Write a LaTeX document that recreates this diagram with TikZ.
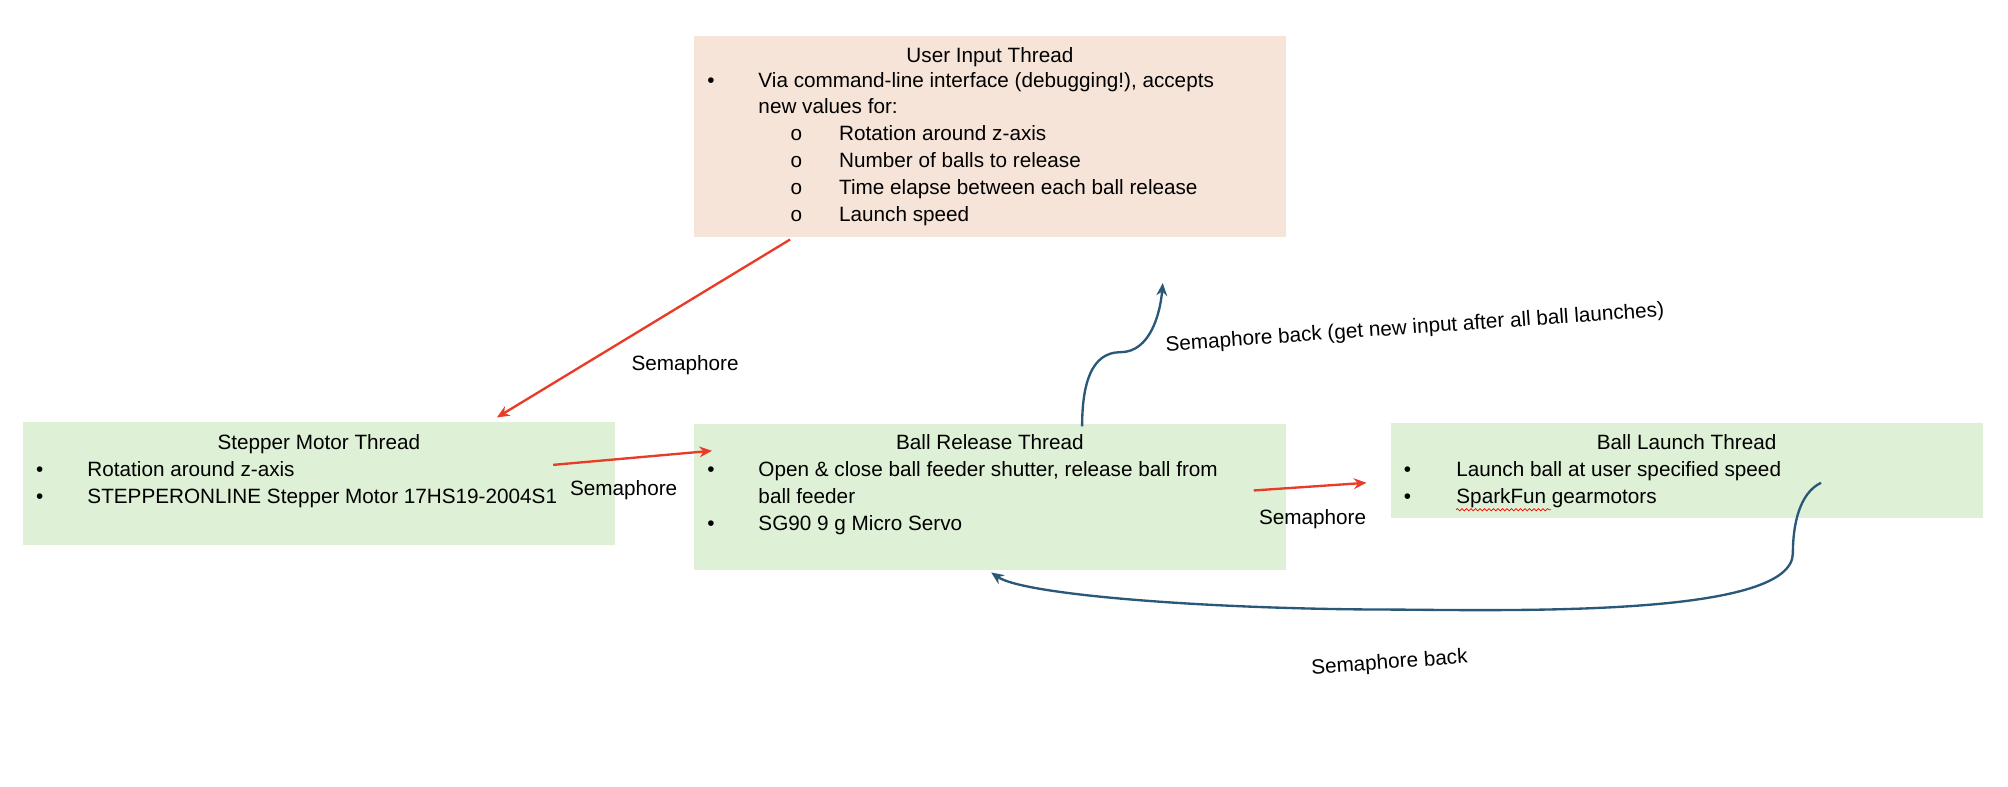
\documentclass[tikz,border=0pt]{standalone}
\usepackage{fontspec}
\setmainfont{Liberation Sans}
\usetikzlibrary{positioning,arrows.meta,decorations.pathmorphing}
\definecolor{peach}{RGB}{246,228,216}
\definecolor{mint}{RGB}{222,240,213}
\definecolor{semred}{RGB}{232,60,40}
\definecolor{semblue}{RGB}{42,88,120}
\tikzset{
  box/.style={fill=#1,inner sep=0pt,anchor=north west},
  ln/.style={anchor=base west,inner sep=0pt,font=\fontsize{11.5}{13}\selectfont},
  ttl/.style={anchor=base,inner sep=0pt,font=\fontsize{11.5}{13}\selectfont},
  lbl/.style={inner sep=0pt,font=\fontsize{11.5}{13}\selectfont},
  red arrow/.style={semred,line width=1.3pt,-{Stealth[length=7pt,width=6pt]}},
  blue arrow/.style={semblue,line width=1.3pt,-{Stealth[length=7pt,width=6pt]}}
}
\newcommand*{\bul}{\textbullet}
\begin{document}
\begin{tikzpicture}[x=0.025cm,y=-0.025cm]
\useasboundingbox (0,0) rectangle (1568,614);
% boxes
\node[box=peach,minimum width=462*0.025cm,minimum height=157*0.025cm] (user) at (542,28) {};
\node[box=mint,minimum width=462*0.025cm,minimum height=96*0.025cm] (stepper) at (18,329) {};
\node[box=mint,minimum width=462*0.025cm,minimum height=114*0.025cm] (release) at (542,331) {};
\node[box=mint,minimum width=462*0.025cm,minimum height=74*0.025cm] (launch) at (1086,330) {};
% user input text
\node[ttl] (userT) at (773,49) {User Input Thread};
\node[ln] (u1b) at (552,68) {\bul};
\node[ln] (u1) at (592,68) {Via command-line interface (debugging!), accepts};
\node[ln] (u1w) at (592,89) {new values for:};
\foreach \y/\t [count=\i] in {110/{ Rotation around z-axis},131/Number of balls to release,152/Time elapse between each ball release,173/Launch speed}{
  \node[ln] (us\i) at (617,\y) {o};
  \node[ln] (ut\i) at (655,\y) {\t};
}
% stepper text
\node[ttl] (stepT) at (249,351) {Stepper Motor Thread};
\node[ln] (s1b) at (28,372) {\bul};
\node[ln] (s1) at (68,372) {Rotation around z-axis};
\node[ln] (s2b) at (28,393) {\bul};
\node[ln] (s2) at (68,393) {STEPPERONLINE Stepper Motor 17HS19-2004S1};
% release text
\node[ttl] (relT) at (773,351) {Ball Release Thread};
\node[ln] (r1b) at (552,372) {\bul};
\node[ln] (r1) at (592,372) {Open \& close ball feeder shutter, release ball from};
\node[ln] (r1w) at (592,393) {ball feeder};
\node[ln] (r2b) at (552,414) {\bul};
\node[ln] (r2) at (592,414) {SG90 9 g Micro Servo};
% launch text
\node[ttl] (lauT) at (1317,351) {Ball Launch Thread};
\node[ln] (l1b) at (1096,372) {\bul};
\node[ln] (l1) at (1137,372) {Launch ball at user specified speed};
\node[ln] (l2b) at (1096,393) {\bul};
\node[ln] (l2) at (1137,393) {SparkFun gearmotors};
\draw[red,decorate,decoration={snake,amplitude=0.6pt,segment length=2.5pt}] (1137,398) -- (1211,398);
% arrow ends
\coordinate (a1) at (617,187);
\coordinate (a2) at (388,326);
\coordinate (b1) at (432,363);
\coordinate (b2) at (556,352);
\coordinate (c1) at (979,383);
\coordinate (c2) at (1067,377);
\coordinate (d1) at (845,333);
\coordinate (d2) at (908,221);
\coordinate (e1) at (1422,377);
\coordinate (e2) at (774,447);
% arrows
\draw[red arrow] (a1) -- (a2);
\draw[red arrow] (b1) -- (b2);
\draw[red arrow] (c1) -- (c2);
\draw[blue arrow] (d1) .. controls (845,300) and (852,275) .. (875,275) .. controls (898,275) and (906,245) .. (d2);
\draw[blue arrow] (e1) .. controls (1405,385) and (1400,410) .. (1400,432) .. controls (1400,480) and (1200,477) .. (1090,476) .. controls (950,476) and (800,465) .. (e2);
% labels
\node[lbl] (semA) at (535,285) {Semaphore};
\node[lbl] (semB) at (487,383) {Semaphore};
\node[lbl] (semC) at (1025,405) {Semaphore};
\node[lbl,rotate=4,anchor=west] (semD) at (910,270) {Semaphore back (get new input after all ball launches)};
\node[lbl,rotate=4] (semE) at (1085,518) {Semaphore back};
\end{tikzpicture}
\end{document}
